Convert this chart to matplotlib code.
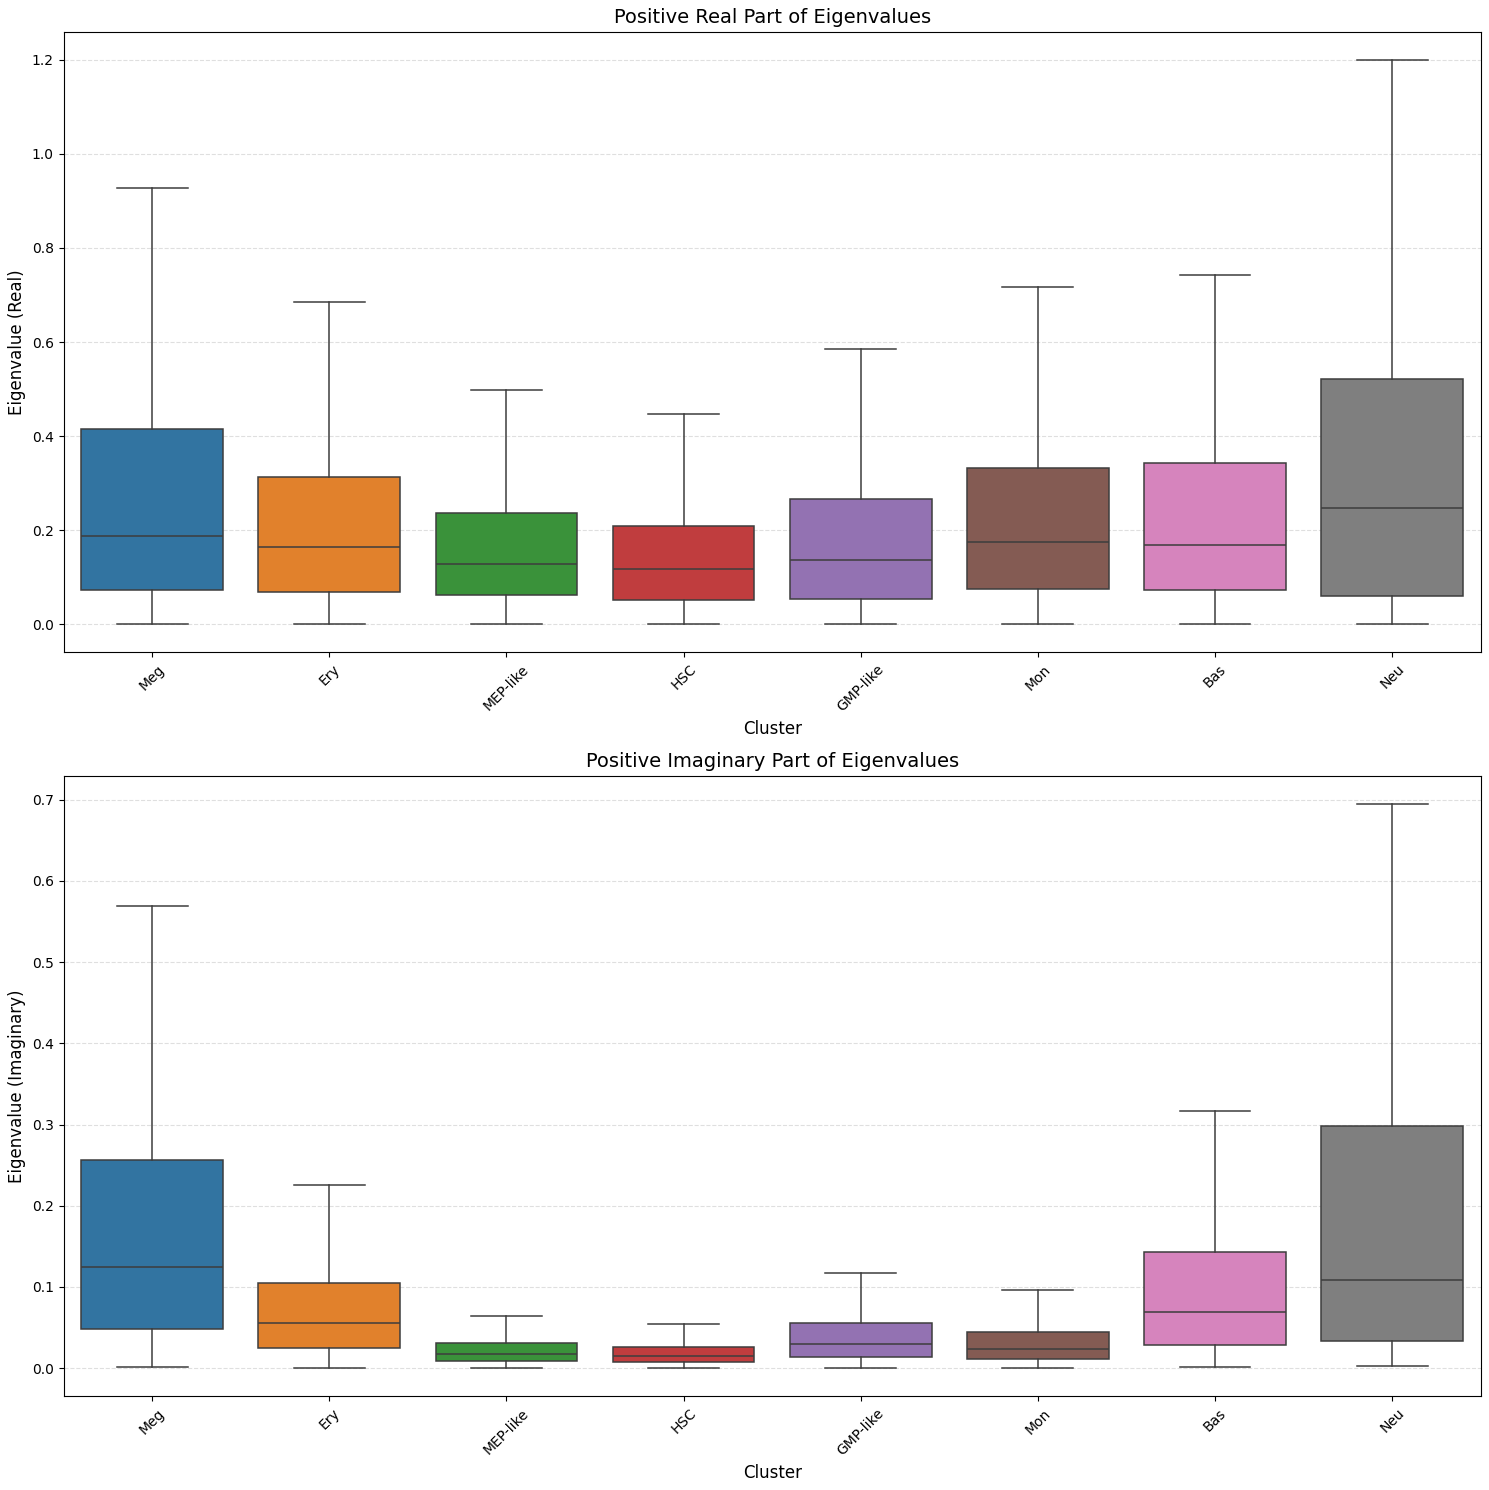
import matplotlib.pyplot as plt

# Clusters and box summary stats
clusters = ['Meg', 'Ery', 'MEP-like', 'HSC', 'GMP-like', 'Mon', 'Bas', 'Neu']
colors = ['#3274a1', '#e1812c', '#3a923a', '#c03d3e', '#9372b2', '#845b53', '#d684bd', '#7f7f7f']

# Real part
real_low = [0.0, 0.0, 0.0, 0.0, 0.0, 0.0, 0.0, 0.0]
real_q1 = [0.073, 0.068, 0.062, 0.051, 0.053, 0.075, 0.073, 0.060]
real_med = [0.188, 0.164, 0.128, 0.117, 0.137, 0.175, 0.169, 0.246]
real_q3 = [0.414, 0.314, 0.237, 0.209, 0.267, 0.333, 0.342, 0.521]
real_high = [0.927, 0.686, 0.498, 0.446, 0.585, 0.717, 0.743, 1.200]

# Imaginary part
imag_low = [0.001, 0.0, 0.0, 0.0, 0.0, 0.0, 0.001, 0.002]
imag_q1 = [0.048, 0.025, 0.009, 0.007, 0.014, 0.011, 0.028, 0.033]
imag_med = [0.124, 0.056, 0.017, 0.015, 0.030, 0.023, 0.069, 0.109]
imag_q3 = [0.256, 0.105, 0.031, 0.026, 0.056, 0.045, 0.143, 0.298]
imag_high = [0.569, 0.225, 0.064, 0.054, 0.117, 0.096, 0.317, 0.695]


def make_stats(low, q1, med, q3, high):
    return [{'whislo': a, 'q1': b, 'med': c, 'q3': d, 'whishi': e, 'fliers': []}
            for a, b, c, d, e in zip(low, q1, med, q3, high)]


line_c = '#3d3d3d'
fig, axes = plt.subplots(2, 1, figsize=(14.89, 14.9), dpi=100)

panels = [
    (make_stats(real_low, real_q1, real_med, real_q3, real_high),
     'Positive Real Part of Eigenvalues', 'Eigenvalue (Real)'),
    (make_stats(imag_low, imag_q1, imag_med, imag_q3, imag_high),
     'Positive Imaginary Part of Eigenvalues', 'Eigenvalue (Imaginary)'),
]

for ax, (stats, title, ylabel) in zip(axes, panels):
    bp = ax.bxp(stats, positions=range(len(clusters)), widths=0.8, patch_artist=True,
                showfliers=False,
                boxprops=dict(edgecolor=line_c, linewidth=1.1),
                medianprops=dict(color=line_c, linewidth=1.1),
                whiskerprops=dict(color=line_c, linewidth=1.1),
                capprops=dict(color=line_c, linewidth=1.1),
                capwidths=0.4)
    for patch, c in zip(bp['boxes'], colors):
        patch.set_facecolor(c)
    ax.set_xlim(-0.5, len(clusters) - 0.5)
    ax.set_xticks(range(len(clusters)))
    ax.set_xticklabels(clusters, rotation=45)
    ax.set_title(title, fontsize=14)
    ax.set_xlabel('Cluster', fontsize=12)
    ax.set_ylabel(ylabel, fontsize=12)
    ax.grid(axis='y', linestyle='--', alpha=0.4)
    ax.set_axisbelow(True)

plt.tight_layout(pad=0.6, h_pad=1.05)
plt.savefig('out.png')
